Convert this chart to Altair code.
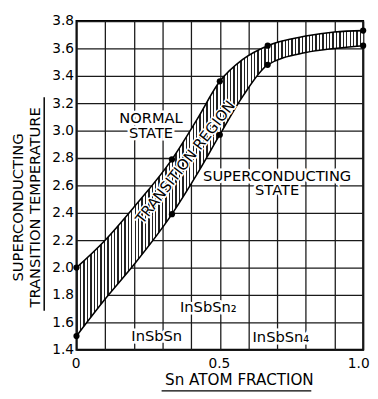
import altair as alt
import pandas as pd

# ---- data ----
# measured points (black dots)
sn_frac = [0.0, 0.333, 0.5, 0.667, 1.0]
t_upper = [2.00, 2.79, 3.36, 3.62, 3.73]
t_lower = [1.50, 2.39, 2.97, 3.48, 3.62]

# boundary curves of the transition region
curve_x = [0.0, 0.1, 0.2, 0.333, 0.42, 0.5, 0.58, 0.667, 0.8, 0.9, 1.0]
curve_upper = [2.00, 2.20, 2.44, 2.79, 3.08, 3.36, 3.52, 3.62, 3.69, 3.72, 3.73]
curve_lower = [1.50, 1.77, 2.02, 2.39, 2.68, 2.97, 3.25, 3.48, 3.57, 3.60, 3.62]

x_grid = [0.0, 0.1, 0.2, 0.3, 0.4, 0.5, 0.6, 0.7, 0.8, 0.9, 1.0]
y_ticks = [1.4, 1.6, 1.8, 2.0, 2.2, 2.4, 2.6, 2.8, 3.0, 3.2, 3.4, 3.6, 3.8]

region_text = ["NORMAL\nSTATE", "SUPERCONDUCTING\nSTATE"]
region_x = [0.26, 0.70]
region_y = [3.09, 2.67]

compound_text = ["InSbSn", "InSbSn\u2082", "InSbSn\u2084"]
compound_x = [0.28, 0.46, 0.713]
compound_y = [1.50, 1.71, 1.49]

band_text = ["TRANSITION REGION"]
band_x = [0.38]
band_y = [2.77]

FONT = "DejaVu Sans"

band = pd.DataFrame({"x": curve_x, "upper": curve_upper, "lower": curve_lower})
pts = pd.DataFrame({"x": sn_frac * 2, "t": t_upper + t_lower})
regions = pd.DataFrame({"x": region_x, "y": region_y, "label": region_text})
compounds = pd.DataFrame({"x": compound_x, "y": compound_y, "label": compound_text})
bandlab = pd.DataFrame({"x": band_x, "y": band_y, "label": band_text})
one = pd.DataFrame({"a": [0]})

# hatch pattern as a striped gradient (style only)
N = 84
stops = []
for i in range(N):
    a = i / N
    b = (i + 0.4) / N
    c = (i + 1) / N
    stops += [alt.GradientStop(color="#222222", offset=a),
              alt.GradientStop(color="#222222", offset=b),
              alt.GradientStop(color="white", offset=b),
              alt.GradientStop(color="white", offset=c)]
hatch = alt.LinearGradient(gradient="linear", stops=stops, x1=0, x2=1, y1=0, y2=0)

xscale = alt.Scale(domain=[0, 1], nice=False, zero=False)
yscale = alt.Scale(domain=[1.4, 3.8], nice=False, zero=False)

xaxis = alt.Axis(
    values=x_grid, tickCount=len(x_grid),
    labelExpr="datum.value == 0 ? '0' : (datum.value == 0.5 ? '0.5' : (datum.value == 1 ? '1.0' : ''))",
    grid=True, ticks=False, domain=False, labelFlush=False, labelOverlap=False,
    labelOffset={"condition": {"test": "datum.value == 1", "value": -5}, "value": -1},
    labelFont=FONT, labelFontSize=14, labelColor="black", labelPadding=7,
    title="Sn ATOM FRACTION", titleFont=FONT, titleFontSize=15.5, titleFontWeight="normal",
    titleColor="black", titleX=166, titleY=31, titleBaseline="middle", titleAlign="center",
)
yaxis = alt.Axis(
    values=y_ticks, tickCount=len(y_ticks), format=".1f",
    grid=True, ticks=False, domain=False, labelFlush=False, labelOverlap=False,
    labelFont=FONT, labelFontSize=14, labelColor="black", labelPadding=3,
    title=["SUPERCONDUCTING", "TRANSITION TEMPERATURE"], titleFont=FONT, titleFontSize=15,
    titleFontWeight="normal", titleColor="black", titleAngle=270, titleX=-60, titleY=190,
    titleBaseline="middle", titleAlign="center", titleLineHeight=17,
)

area = alt.Chart(band).mark_area(fill=hatch, interpolate="monotone").encode(
    x=alt.X("x:Q", scale=xscale, axis=xaxis),
    y=alt.Y("lower:Q", scale=yscale, axis=yaxis),
    y2="upper:Q",
)
line_up = alt.Chart(band).mark_line(color="black", strokeWidth=1.6, interpolate="monotone").encode(
    x="x:Q", y="upper:Q")
line_lo = alt.Chart(band).mark_line(color="black", strokeWidth=1.6, interpolate="monotone").encode(
    x="x:Q", y="lower:Q")
points = alt.Chart(pts).mark_circle(size=40, color="black", opacity=1).encode(x="x:Q", y="t:Q")

def label_layers(df, size, angle=0, halo=5):
    halo_l = alt.Chart(df).mark_text(font=FONT, fontSize=size, angle=angle, lineBreak="\n",
                                     lineHeight=15, color="white", stroke="white",
                                     strokeWidth=halo, align="center", baseline="middle").encode(
        x="x:Q", y="y:Q", text="label:N")
    txt = alt.Chart(df).mark_text(font=FONT, fontSize=size, angle=angle, lineBreak="\n",
                                  lineHeight=15, color="black", align="center",
                                  baseline="middle").encode(
        x="x:Q", y="y:Q", text="label:N")
    return [halo_l, txt]

layers = [area, line_up, line_lo, points]
layers += label_layers(regions, 15)
layers += label_layers(compounds, 15)
layers += label_layers(bandlab, 15, angle=308, halo=3)

ul_y = alt.Chart(one).mark_rule(color="black", strokeWidth=1.5).encode(
    x=alt.value(-33), y=alt.value(78), y2=alt.value(296))
ul_x = alt.Chart(one).mark_rule(color="black", strokeWidth=1.5).encode(
    x=alt.value(87), x2=alt.value(240), y=alt.value(378))
layers += [ul_y, ul_x]

chart = alt.layer(*layers).properties(
    width=293, height=336,
    autosize=alt.AutoSizeParams(type="none"),
    padding={"left": 70, "top": 9, "right": 7, "bottom": 46},
).configure_view(stroke="black", strokeWidth=2).configure_axis(
    gridColor="#1a1a1a", gridWidth=1.3, gridOpacity=1
)

chart.save("out.html", embed_options={"renderer": "svg", "actions": False})
